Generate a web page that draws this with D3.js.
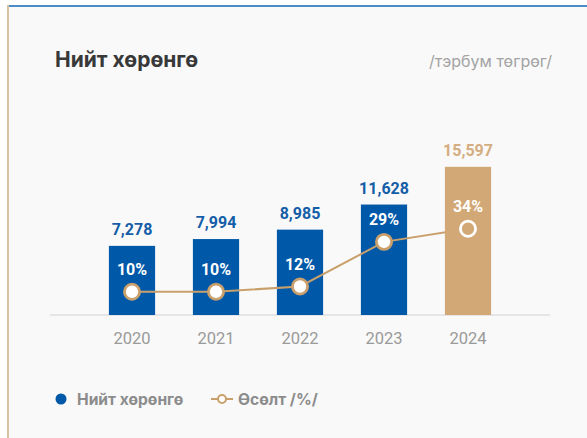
<!DOCTYPE html>
<html>
<head>
<meta charset="utf-8">
<script src="https://cdn.jsdelivr.net/npm/d3@7"></script>
<style>
  html, body { margin: 0; padding: 0; background: #ffffff; }
  svg { display: block; font-family: Roboto, "Noto Sans", sans-serif; }
</style>
</head>
<body>
<svg id="chart" width="587" height="438"></svg>
<script>
// chart data
var years = ["2020", "2021", "2022", "2023", "2024"];
var assets = [7278, 7994, 8985, 11628, 15597];
var growth = [10, 10, 12, 29, 34];

var width = 587,
    height = 438,
    baseline = 315,
    blue = "#0058a8",
    tan = "#d2a877",
    line_col = "#c9a06c",
    text_font = "Inter, Roboto, sans-serif";

var svg = d3.select("#chart");

//card background and borders
svg.append("rect").attr("x", 7).attr("y", 5).attr("width", width - 7).attr("height", height - 5).attr("fill", "#f9f9f9");
svg.append("rect").attr("x", 7).attr("y", 5).attr("width", width - 7).attr("height", 2).attr("fill", "#4b8bc8");
svg.append("rect").attr("x", 7).attr("y", 5).attr("width", 2).attr("height", height - 5).attr("fill", "#dcc3a0");

//titles
svg.append("text")
    .attr("x", 55).attr("y", 67)
    .attr("font-family", text_font)
    .attr("font-size", 21).attr("font-weight", 700).attr("fill", "#383838")
    .text("Нийт хөрөнгө");

svg.append("text")
    .attr("x", 552).attr("y", 67)
    .attr("text-anchor", "end")
    .attr("font-family", text_font)
    .attr("font-size", 16).attr("fill", "#a3a3a3")
    .text("/тэрбум төгрөг/");

//scales
const x = d3.scaleBand().domain(years).range([90, 510]).paddingInner(0.45).paddingOuter(0.225);
const y = d3.scaleLinear().domain([0, 16000]).range([baseline, 163]);
const y2 = d3.scaleLinear().domain([0, 40]).range([318, 213]);

const data = years.map((d, i) => ({year: d, value: assets[i], growth: growth[i], last: i === years.length - 1}));

//axis baseline + year labels
svg.append("line")
    .attr("x1", 50).attr("x2", 550).attr("y1", baseline).attr("y2", baseline)
    .attr("stroke", "#dedede").attr("stroke-width", 1.5);

const x_axis = svg.append("g")
    .attr("transform", "translate(0," + baseline + ")")
    .call(d3.axisBottom(x).tickSize(0).tickPadding(17));
x_axis.select(".domain").remove();
x_axis.selectAll("text")
    .attr("font-family", "Roboto, sans-serif")
    .attr("font-size", 16.5).attr("fill", "#9a9a9a");

//bars
svg.selectAll(".bar")
    .data(data)
    .join("rect")
    .attr("class", "bar")
    .attr("x", d => x(d.year))
    .attr("width", x.bandwidth())
    .attr("y", d => y(d.value))
    .attr("height", d => baseline - y(d.value))
    .attr("fill", d => d.last ? tan : blue);

//value labels
svg.selectAll(".value_label")
    .data(data)
    .join("text")
    .attr("class", "value_label")
    .attr("x", d => x(d.year) + x.bandwidth() / 2)
    .attr("y", d => y(d.value) - 11)
    .attr("text-anchor", "middle")
    .attr("font-size", 16).attr("font-weight", 700)
    .attr("fill", d => d.last ? "#d4ad80" : "#145ea8")
    .text(d => d3.format(",")(d.value));

//growth line (drawn under the last bar so it blends into it)
const line = d3.line()
    .x(d => x(d.year) + x.bandwidth() / 2)
    .y(d => y2(d.growth));

svg.insert("path", ".bar:last-of-type")
    .datum(data)
    .attr("fill", "none")
    .attr("stroke", line_col)
    .attr("stroke-width", 2)
    .attr("d", line);

svg.selectAll(".dot")
    .data(data)
    .join("circle")
    .attr("class", "dot")
    .attr("cx", d => x(d.year) + x.bandwidth() / 2)
    .attr("cy", d => y2(d.growth))
    .attr("r", 7.6)
    .attr("fill", d => d.last ? "none" : "#ffffff")
    .attr("stroke", d => d.last ? "#ffffff" : line_col)
    .attr("stroke-width", 2.8);

svg.selectAll(".growth_label")
    .data(data)
    .join("text")
    .attr("class", "growth_label")
    .attr("x", d => x(d.year) + x.bandwidth() / 2)
    .attr("y", d => y2(d.growth) - 17)
    .attr("text-anchor", "middle")
    .attr("font-size", 16).attr("font-weight", 700)
    .attr("fill", "#ffffff")
    .text(d => d.growth + "%");

//legend
const legend = svg.append("g").attr("font-family", text_font).attr("font-size", 15.6).attr("font-weight", 700).attr("fill", "#8c8c8c");
legend.append("circle").attr("cx", 61).attr("cy", 399).attr("r", 5.5).attr("fill", blue);
legend.append("text").attr("x", 77).attr("y", 404.5).text("Нийт хөрөнгө");
legend.append("line").attr("x1", 211).attr("x2", 233).attr("y1", 399).attr("y2", 399)
    .attr("stroke", line_col).attr("stroke-width", 2);
legend.append("circle").attr("cx", 222).attr("cy", 399).attr("r", 4)
    .attr("fill", "#ffffff").attr("stroke", line_col).attr("stroke-width", 2);
legend.append("text").attr("x", 238).attr("y", 404.5).text("Өсөлт /%/");
</script>
</body>
</html>
